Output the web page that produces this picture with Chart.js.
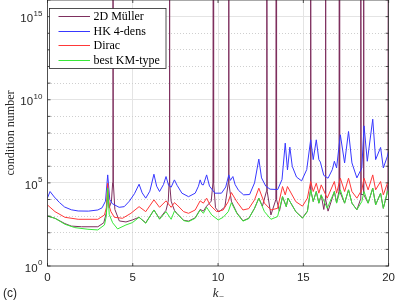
<!DOCTYPE html>
<html><head><meta charset="utf-8">
<script src="https://cdn.jsdelivr.net/npm/chart.js@4.4.1/dist/chart.umd.min.js"></script>
<style>html,body{margin:0;padding:0;background:#fff}#wrap{width:400px;height:300px;position:relative}</style>
</head><body><div id="wrap"><canvas id="c" width="400" height="300"></canvas></div>
<script>
// x ticks (k_-) and y decades (log10 of condition number)
const xTicks = [0, 5, 10, 15, 20];
const yDecades = [0,1,2,3,4,5,6,7,8,9,10,11,12,13,14,15,16];
const yLabelDecades = [0, 5, 10, 15];
const seriesLabels = ['2D Müller', 'HK 4-dens', 'Dirac', 'best KM-type'];

// [k_-, log10(condition number)]
const mullerPts = [[0,3.0],[0.44,2.87],[1.02,2.55],[1.4,2.4],[2.0,2.36],[2.95,2.36],[3.3,2.6],[3.45,3.2],[3.53,4.3],[3.62,3.5],[3.75,3.9],[3.82,5.0],[3.84,20],[3.86,5.0],[3.95,3.4],[4.21,2.71],[4.6,2.65],[4.98,2.77],[5.37,2.93],[5.76,2.6],[6.24,3.37],[6.57,2.85],[6.95,3.35],[7.08,3.9],[7.13,5.0],[7.15,20],[7.17,5.0],[7.25,3.9],[7.44,3.35],[7.6,3.15],[7.98,2.75],[8.27,2.7],[8.66,2.9],[8.95,3.4],[9.14,3.3],[9.33,3.6],[9.6,3.9],[9.70,5.0],[9.72,20],[9.74,5.0],[9.85,3.5],[10.05,3.25],[10.4,3.55],[10.6,5.0],[10.62,20],[10.64,5.0],[10.78,3.9],[11.1,3.2],[11.46,2.72],[11.8,2.87],[12.14,3.47],[12.39,4.08],[12.6,3.6],[12.84,4.5],[12.86,20],[12.88,4.5],[13.1,3.07],[13.39,4.0],[13.41,20],[13.43,4.0],[13.6,3.3],[13.78,4.17],[14.0,3.57],[14.1,4.08],[14.56,3.27],[14.95,2.9],[15.24,3.3],[15.41,4.5],[15.43,20],[15.45,4.5],[15.58,3.88],[15.76,4.48],[15.91,3.78],[16.05,4.28],[16.2,3.4],[16.28,4.0],[16.30,20],[16.32,4.0],[16.45,3.3],[16.82,4.48],[16.95,3.8],[17.09,4.5],[17.11,20],[17.13,4.5],[17.42,3.78],[17.65,4.58],[17.85,3.78],[18.14,3.38],[18.35,4.0],[18.37,20],[18.39,4.3],[18.51,4.3],[18.53,20],[18.55,4.3],[18.8,3.78],[19.07,4.68],[19.24,3.68],[19.53,4.38],[19.69,3.47],[19.9,4.3],[19.96,5.0],[19.98,20],[20,20]];

const hkPts = [[0,4.1],[0.15,4.48],[0.4,4.15],[0.7,3.82],[1.0,3.55],[1.4,3.38],[1.8,3.31],[2.4,3.30],[2.95,3.37],[3.2,3.5],[3.4,3.9],[3.53,5.48],[3.65,4.0],[3.8,3.75],[4.2,3.53],[4.5,3.57],[4.8,3.9],[5.1,4.35],[5.37,4.92],[5.55,4.4],[5.76,4.08],[6.0,4.5],[6.24,5.52],[6.4,4.8],[6.57,4.48],[6.8,4.9],[6.95,5.38],[7.1,4.85],[7.25,4.74],[7.44,5.18],[7.6,4.85],[7.88,4.38],[8.27,4.17],[8.66,4.38],[8.85,4.8],[8.95,5.18],[9.05,4.9],[9.14,4.88],[9.33,5.48],[9.5,4.8],[9.82,4.38],[10.2,4.38],[10.45,4.75],[10.63,5.48],[10.72,5.15],[10.87,5.38],[11.0,4.9],[11.2,4.55],[11.5,4.28],[11.85,4.3],[12.14,5.0],[12.39,6.43],[12.55,5.3],[12.8,4.8],[13.05,4.62],[13.5,4.6],[13.75,5.2],[13.94,7.39],[14.07,5.78],[14.21,7.15],[14.35,6.0],[14.6,5.35],[14.9,5.12],[15.2,5.8],[15.43,7.59],[15.58,6.4],[15.76,7.59],[15.91,6.4],[16.0,6.25],[16.2,5.45],[16.45,5.28],[16.7,5.8],[16.82,6.3],[16.95,5.9],[17.17,7.89],[17.42,6.2],[17.65,8.09],[17.85,6.2],[18.14,5.3],[18.43,5.9],[18.56,8.43],[18.75,6.3],[19.07,8.83],[19.24,6.4],[19.53,7.13],[19.69,5.9],[19.93,6.6],[20,6.9]];

const diracPts = [[0,3.67],[0.44,3.27],[1.02,2.93],[1.8,2.81],[2.95,2.81],[3.34,3.07],[3.45,3.5],[3.53,4.98],[3.62,3.6],[3.72,3.27],[3.92,2.93],[4.4,2.87],[4.89,3.17],[5.37,3.57],[5.76,3.27],[6.24,3.98],[6.57,3.53],[6.95,3.92],[7.25,3.53],[7.44,3.81],[7.6,3.67],[7.98,3.27],[8.27,3.17],[8.66,3.37],[8.95,3.92],[9.14,3.78],[9.33,4.08],[9.53,3.67],[9.92,3.27],[10.3,3.37],[10.6,3.87],[10.78,4.42],[11.1,3.87],[11.46,3.37],[11.8,3.45],[12.14,3.98],[12.39,4.68],[12.72,3.78],[13.1,3.37],[13.49,3.47],[13.78,4.78],[13.94,4.28],[14.07,4.78],[14.56,3.87],[14.95,3.6],[15.24,4.08],[15.43,5.08],[15.58,4.48],[15.76,4.98],[15.91,4.38],[16.05,4.88],[16.4,4.08],[16.82,5.08],[16.95,4.38],[17.17,5.28],[17.42,4.48],[17.65,5.28],[17.85,4.48],[18.14,4.08],[18.43,4.58],[18.56,5.28],[18.8,4.58],[19.07,5.48],[19.24,4.58],[19.53,5.08],[19.69,4.28],[19.93,4.98],[20,5.0]];

const kmPts = [[0,3.01],[0.44,2.87],[1.02,2.51],[1.6,2.31],[2.37,2.21],[2.95,2.17],[3.34,2.47],[3.45,3.0],[3.53,4.68],[3.62,3.1],[3.82,2.6],[4.11,2.23],[4.6,2.47],[4.98,2.61],[5.37,2.93],[5.76,2.57],[6.24,3.37],[6.57,2.81],[6.95,3.27],[7.25,2.81],[7.44,3.3],[7.6,3.15],[7.98,2.73],[8.27,2.67],[8.66,2.87],[8.95,3.37],[9.14,3.17],[9.33,3.53],[9.63,3.07],[10.01,2.77],[10.3,2.93],[10.6,3.27],[10.78,3.81],[11.1,3.17],[11.46,2.7],[11.8,2.85],[12.14,3.47],[12.39,4.08],[12.72,3.27],[13.1,2.81],[13.49,2.97],[13.78,4.17],[14.0,3.57],[14.1,4.08],[14.56,3.27],[14.95,2.87],[15.24,3.27],[15.43,4.58],[15.58,3.88],[15.76,4.48],[15.91,3.78],[16.05,4.28],[16.4,3.47],[16.82,4.48],[16.95,3.78],[17.17,4.58],[17.42,3.78],[17.65,4.58],[17.85,3.78],[18.14,3.38],[18.43,3.88],[18.56,4.48],[18.8,3.78],[19.07,4.68],[19.24,3.68],[19.53,4.38],[19.69,3.47],[19.93,4.48],[20,4.5]];

const toXY = pts => pts.map(p => ({x: p[0], y: Math.pow(10, p[1])}));
const decadeOf = v => Math.round(Math.log10(v));

const framePlugin = {
  id: 'frame',
  afterDraw(chart) {
    const ctx = chart.ctx, a = chart.chartArea;
    const xs = chart.scales.x, ys = chart.scales.y;
    const ink = '#262626';
    ctx.save();
    ctx.strokeStyle = ink; ctx.lineWidth = 0.8;
    ctx.strokeRect(a.left, a.top, a.right - a.left, a.bottom - a.top);
    ctx.beginPath();
    yDecades.forEach(e => {
      const y = ys.getPixelForValue(Math.pow(10, e));
      ctx.moveTo(a.left, y); ctx.lineTo(a.left + 3, y);
      ctx.moveTo(a.right, y); ctx.lineTo(a.right - 3, y);
    });
    xTicks.forEach(v => {
      const x = xs.getPixelForValue(v);
      ctx.moveTo(x, a.bottom); ctx.lineTo(x, a.bottom - 3);
      ctx.moveTo(x, a.top); ctx.lineTo(x, a.top + 3);
    });
    ctx.stroke();
    ctx.fillStyle = ink;
    yLabelDecades.forEach(e => {
      const y = ys.getPixelForValue(Math.pow(10, e));
      ctx.font = '8px "Liberation Sans"';
      const ew = ctx.measureText(String(e)).width;
      const right = 42.5;
      ctx.textBaseline = 'middle';
      ctx.font = '11.5px "Liberation Sans"';
      ctx.textAlign = 'right';
      ctx.fillText('10', right - ew - 0.5, y + 2.5);
      ctx.font = '8px "Liberation Sans"';
      ctx.textAlign = 'left';
      ctx.fillText(String(e), right - ew, y - 3);
    });
    ctx.save();
    ctx.translate(10.5, (a.top + a.bottom) / 2);
    ctx.rotate(-Math.PI / 2);
    ctx.font = '12px "Liberation Serif"';
    ctx.textAlign = 'center'; ctx.textBaseline = 'middle';
    ctx.fillText('condition number', 0, 0);
    ctx.restore();
    ctx.font = 'italic 13px "Liberation Serif"';
    const kw = ctx.measureText('k').width;
    ctx.font = '9px "Liberation Serif"';
    const mw = ctx.measureText('\u2212').width;
    const cx = (a.left + a.right) / 2;
    const x0 = cx - (kw + mw) / 2;
    ctx.textAlign = 'left'; ctx.textBaseline = 'alphabetic';
    ctx.font = 'italic 13px "Liberation Serif"';
    ctx.fillText('k', x0, 296.5);
    ctx.font = '9px "Liberation Serif"';
    ctx.fillText('\u2212', x0 + kw + 0.3, 298.5);
    ctx.font = '12px "Liberation Sans"';
    ctx.textBaseline = 'middle';
    ctx.fillText('(c)', 3, 293.5);
    // legend
    const lx = 49.5, ly = 8.5, lw = 116.5, lh = 60;
    ctx.fillStyle = '#fff';
    ctx.fillRect(lx, ly, lw, lh);
    ctx.strokeStyle = ink; ctx.lineWidth = 0.8;
    ctx.strokeRect(lx, ly, lw, lh);
    const rows = [16, 30.5, 45, 59.5];
    chart.data.datasets.forEach((ds, i) => {
      const y = Math.round(rows[i]) + 0.5;
      ctx.strokeStyle = ds.borderColor; ctx.lineWidth = 1;
      ctx.beginPath(); ctx.moveTo(58.5, y); ctx.lineTo(90, y); ctx.stroke();
      ctx.fillStyle = '#000';
      ctx.font = '12px "Liberation Serif"';
      ctx.textAlign = 'left'; ctx.textBaseline = 'middle';
      ctx.fillText(ds.label, 93.5, y);
    });
    ctx.restore();
  }
};

const lineDs = (label, pts, color, order) => ({
  label, data: toXY(pts), borderColor: color, borderWidth: 1, order,
  pointRadius: 0, tension: 0, fill: false
});

new Chart(document.getElementById('c'), {
  type: 'line',
  data: { datasets: [
    lineDs(seriesLabels[0], mullerPts, '#7e2f5e', 4),
    lineDs(seriesLabels[1], hkPts, '#3838ff', 3),
    lineDs(seriesLabels[2], diracPts, '#ff3838', 2),
    lineDs(seriesLabels[3], kmPts, '#38e838', 1)
  ]},
  options: {
    responsive: false, animation: false, devicePixelRatio: 1,
    layout: { padding: { left: 0, right: 3, top: 0, bottom: 0 } },
    plugins: { legend: { display: false }, tooltip: { enabled: false } },
    scales: {
      x: {
        type: 'linear', min: 0, max: 20,
        afterBuildTicks: s => { s.ticks = xTicks.map(v => ({ value: v })); },
        afterFit: s => { s.height = 34; },
        grid: {
          drawTicks: false, lineWidth: 1,
          color: c => (c.tick && (c.tick.value === 0 || c.tick.value === 20)) ? 'rgba(0,0,0,0)' : '#e4e4e4'
        },
        border: { display: false },
        ticks: { font: { family: 'Liberation Sans', size: 11.5 }, color: '#262626', padding: 5,
                 maxRotation: 0, autoSkip: false, callback: v => String(v) }
      },
      y: {
        type: 'logarithmic', min: 1, max: 1e16,
        afterBuildTicks: s => { s.ticks = yDecades.map(e => ({ value: Math.pow(10, e) })); },
        afterFit: s => { s.width = 47.5; },
        grid: {
          drawTicks: false, lineWidth: 1,
          color: c => {
            if (!c.tick) return '#e4e4e4';
            const e = decadeOf(c.tick.value);
            if (e === 0 || e === 16) return 'rgba(0,0,0,0)';
            return e % 5 === 0 ? '#e4e4e4' : '#cfcfcf';
          }
        },
        border: {
          display: false,
          dash: c => { if (!c.tick) return []; const e = decadeOf(c.tick.value); return e % 5 === 0 ? [] : [1, 2]; }
        },
        ticks: { display: false }
      }
    }
  },
  plugins: [framePlugin]
});
</script>
</body></html>
